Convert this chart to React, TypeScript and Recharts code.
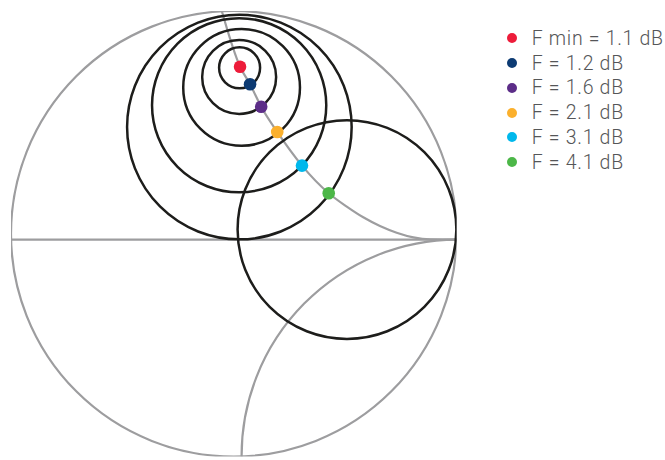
import React from 'react';
import { ComposedChart, Line, Scatter, XAxis, YAxis } from 'recharts';

// reflection-plane coordinates (unit circle = chart edge)
const noiseLevels = [1.1, 1.2, 1.6, 2.1, 3.1, 4.1];
const dotColors = ['#ed1c3a', '#0d3b73', '#5c2d88', '#fbb02d', '#00b8ec', '#4cb748'];

const dotX = [0.028, 0.073, 0.123, 0.195, 0.306, 0.426];
const dotY = [0.75, 0.671, 0.57, 0.457, 0.306, 0.182];

// noise circles (F = 1.2 ... 4.1 dB) plus the r = 1 circle
const circleX = [0.026, 0.024, 0.035, 0.024, 0.025, 0.508];
const circleY = [0.745, 0.704, 0.657, 0.577, 0.479, 0.019];
const circleR = [0.092, 0.166, 0.262, 0.391, 0.504, 0.491];

// optimum source locus
const locusX = [-0.054, 0.028, 0.073, 0.123, 0.195, 0.306, 0.426, 0.507, 0.581, 0.656, 0.731, 0.806, 0.881, 1.0];
const locusY = [1.0, 0.75, 0.671, 0.57, 0.457, 0.306, 0.182, 0.122, 0.074, 0.035, 0.005, -0.016, -0.025, -0.026];

const axisY = -0.026;
const reactanceArc = [{ x: 1.0, y: -0.026, x2: 0.035, y2: -1.0, r: 0.97 }];

const W = 665;
const H = 460;
const margin = { top: 11, right: 208.4, bottom: 3.4, left: 11 };
const PX = (W - margin.left - margin.right) / 2; // pixels per unit

const GRAY = '#9d9d9f';
const BLACK = '#1d1d1b';

const outer = [{ x: 0, y: 0, r: 1 }];
const circles = circleX.map((x, i) => ({ x, y: circleY[i], r: circleR[i] }));
const dots = dotX.map((x, i) => ({ x, y: dotY[i] }));
const locus = locusX.map((x, i) => ({ x, y: locusY[i] }));
const axisLine = [{ x: -1, y: axisY }, { x: 1, y: axisY }];

const ringShape = (color: string, width: number) => (p: any) => (
    <circle cx={p.cx} cy={p.cy} r={p.payload.r * PX} fill="none" stroke={color} strokeWidth={width} />
);

const arcShape = (p: any) => {
    const d = p.payload;
    const ex = p.cx + (d.x2 - d.x) * PX;
    const ey = p.cy - (d.y2 - d.y) * PX;
    const r = d.r * PX;
    return <path d={`M${p.cx},${p.cy} A${r},${r} 0 0 0 ${ex},${ey}`} fill="none" stroke={GRAY} strokeWidth={2.2} />;
};

const App = () => {
    return (
        <div style={{ position: 'absolute', left: 0, top: 0, width: W, height: H, background: '#fff' }}>
            <ComposedChart width={W} height={H} margin={margin}>
                <XAxis type="number" dataKey="x" domain={[-1, 1]} hide allowDataOverflow />
                <YAxis type="number" dataKey="y" domain={[-1, 1]} hide allowDataOverflow />
                <Scatter data={outer} shape={ringShape(GRAY, 2.2)} isAnimationActive={false} />
                <Line data={axisLine} dataKey="y" stroke={GRAY} strokeWidth={2.2} dot={false} isAnimationActive={false} />
                <Scatter data={reactanceArc} shape={arcShape} isAnimationActive={false} />
                <Scatter data={circles} shape={ringShape(BLACK, 2.5)} isAnimationActive={false} />
                <Line data={locus} dataKey="y" type="monotone" stroke={GRAY} strokeWidth={2.2} dot={false} isAnimationActive={false} />
                {dots.map((d, i) => (
                    <Scatter
                        key={i}
                        data={[d]}
                        fill={dotColors[i]}
                        shape={(p: any) => <circle cx={p.cx} cy={p.cy} r={6.3} fill={dotColors[i]} />}
                        isAnimationActive={false}
                    />
                ))}
            </ComposedChart>
            <div style={{ position: 'absolute', left: 506.7, top: 25.9, fontFamily: 'Roboto, sans-serif', fontWeight: 300, fontSize: 19.5, letterSpacing: 0.7, color: '#555658' }}>
                {noiseLevels.map((v, i) => (
                    <div key={i} style={{ display: 'flex', alignItems: 'center', height: 24.8, whiteSpace: 'nowrap' }}>
                        <span style={{ width: 10, height: 10, borderRadius: 5, background: dotColors[i], display: 'inline-block', marginRight: 15 }} />
                        <span>{i === 0 ? `F min = ${v} dB` : `F = ${v} dB`}</span>
                    </div>
                ))}
            </div>
        </div>
    );
};

export default App;
